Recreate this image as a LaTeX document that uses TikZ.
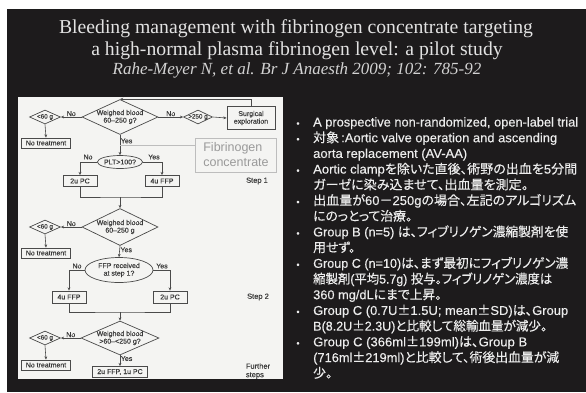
\documentclass[tikz,border=0pt]{standalone}
\usepackage{fontspec}
\usepackage{graphicx}
\setmainfont{Liberation Sans}
\newfontfamily\titlefont{Liberation Serif}
\newfontfamily\bodyfont{Liberation Sans}[FakeBold=0.3]
\newfontfamily\chartfont{Liberation Sans}[FakeBold=0.4]
\newfontfamily\jp{Noto Sans CJK JP}[RawFeature=+palt, FakeBold=0.3]
\usetikzlibrary{shapes.geometric,arrows.meta}
% Japanese run inside a Latin line
\newcommand\J[1]{{\jp #1}}
% set a line to a given width (pt), keeping its height
\newcommand\fitto[2]{\resizebox{#1pt}{\height}{#2}}

\definecolor{slidebg}{HTML}{1D1B1C}
\definecolor{titlec}{HTML}{E2E2E2}
\definecolor{citec}{HTML}{D2D2D2}
\definecolor{bodyc}{HTML}{ECECEC}
\definecolor{panelc}{HTML}{F4F4F2}
\definecolor{fcline}{HTML}{4A4A4A}
\definecolor{fctext}{HTML}{3C3C3C}
\definecolor{fibline}{HTML}{BDBDBD}
\definecolor{fibtext}{HTML}{9A9A9A}

\tikzset{
  fc/.style={font=\chartfont\fontsize{7}{7.6}\selectfont, text=fctext, align=center},
  fbox/.style={fc, draw=fcline, line width=0.8pt, rectangle, inner sep=0.5pt},
  fdia/.style={fc, draw=fcline, line width=0.7pt, diamond, aspect=2.2, inner sep=-2pt},
  sdia/.style={fdia, font=\chartfont\fontsize{6.3}{7}\selectfont},
  fell/.style={fc, draw=fcline, line width=0.7pt, ellipse, inner sep=0pt},
  fln/.style={draw=fcline, line width=0.6pt},
  farr/.style={fln, -{Stealth[length=3.2pt,width=2.8pt]}},
  flab/.style={fc, inner sep=0.6pt},
  stepl/.style={font=\chartfont\fontsize{7.5}{8.5}\selectfont, text=fctext, align=left},
  bodyl/.style={anchor=base west, inner sep=0pt, text=bodyc, font=\bodyfont\fontsize{12.8}{15}\selectfont},
  bul/.style={anchor=base, inner sep=0pt, text=bodyc, font=\bodyfont\fontsize{9}{10}\selectfont},
  titl/.style={anchor=base, inner sep=0pt, text=titlec, font=\titlefont\fontsize{19.7}{23}\selectfont},
}

\begin{document}
\begin{tikzpicture}[x=1pt,y=-1pt]
\useasboundingbox (0,0) rectangle (586,392);
% page and slide
\fill[white] (0,0) rectangle (586,392);
\fill[slidebg] (7,9) rectangle (586,392);

% title block
\node[titl] (t1) at (296,33) {Bleeding management with fibrinogen concentrate targeting};
\node[titl] (t2) at (297,55) {a high-normal plasma fibrinogen level: a pilot study};
\node[anchor=base, inner sep=0pt, text=citec, font=\titlefont\itshape\fontsize{17}{19}\selectfont] (t3) at (297,74) {Rahe-Meyer N, et al. Br J Anaesth 2009; 102: 785-92};

% flowchart panel
\fill[panelc] (18,97) rectangle (283,379);

% ---- step 1
\node[fdia, minimum width=76pt, minimum height=35pt] (d1) at (120,117) {Weighed blood\\60–250 g?};
\node[sdia, minimum width=31pt, minimum height=14pt] (s1) at (45,117) {<60 g};
\node[fbox, minimum width=49pt, minimum height=10pt] (nt1) at (46,143) {No treatment};
\node[sdia, minimum width=29pt, minimum height=14pt] (g1) at (198,117) {>250 g};
\node[fbox, minimum width=48pt, minimum height=23pt] (surg) at (251,118) {Surgical\\exploration};
\node[draw=fibline, line width=0.9pt, text=fibtext, font=\fontsize{12.5}{15}\selectfont, align=left, minimum width=81pt, minimum height=34pt, inner sep=2pt] (fib) at (236,155) {Fibrinogen\\concentrate};
\node[fell, minimum width=44pt, minimum height=13pt] (plt) at (120,162) {PLT>100?};
\node[fbox, minimum width=34pt, minimum height=11pt] (pc1) at (80,181) {2u PC};
\node[fbox, minimum width=34pt, minimum height=11pt] (ffp1) at (162,181) {4u FFP};
\node[stepl] (st1) at (257,181) {Step 1};

\draw[farr] (d1.west) -- (s1.east) node[flab, midway, above] (n1) {No};
\draw[farr] (s1.south) -- (nt1.north);
\draw[farr] (d1.east) -- (g1.west) node[flab, midway, above] (n2) {No};
\draw[farr] (g1.east) -- (surg.west);
\draw[farr] (surg.north) |- (d1.north);
\draw[farr] (d1.south) -- (plt.north) node[flab, pos=0.3, right] (y1) {Yes};
\coordinate (fj) at (120,145);
\draw[draw=fibline, line width=0.8pt] (fj) -- (fj -| fib.west);
\draw[farr] (plt.west) -| (pc1.north);
\node[flab] (n3) at (88,157) {No};
\draw[farr] (plt.east) -| (ffp1.north);
\node[flab] (y2) at (154,157) {Yes};
\coordinate (m1) at (120,197);
\draw[fln] (pc1.south) |- (m1) -| (ffp1.south);

% ---- step 2
\node[fdia, minimum width=76pt, minimum height=37pt] (d2) at (120,227) {Weighed blood\\60–250 g};
\node[sdia, minimum width=31pt, minimum height=14pt] (s2) at (45,227) {<60 g};
\node[fbox, minimum width=49pt, minimum height=10pt] (nt2) at (46,253) {No treatment};
\node[fell, minimum width=68pt, minimum height=25pt] (ffq) at (119,270) {FFP received\\at step 1?};
\node[fbox, minimum width=34pt, minimum height=12pt] (ffp2) at (69,297) {4u FFP};
\node[fbox, minimum width=34pt, minimum height=12pt] (pc2) at (170,297) {2u PC};
\node[stepl] (st2) at (258,297) {Step 2};

\draw[farr] (m1) -- (d2.north);
\draw[farr] (d2.west) -- (s2.east) node[flab, midway, above] (n4) {No};
\draw[farr] (s2.south) -- (nt2.north);
\draw[farr] (d2.south) -- (ffq.north) node[flab, pos=0.35, right] (y3) {Yes};
\draw[farr] (ffq.west) -| (ffp2.north);
\node[flab] (n5) at (77,266) {No};
\draw[farr] (ffq.east) -| (pc2.north);
\node[flab] (y4) at (162,266) {Yes};
\coordinate (m2) at (120,312);
\draw[fln] (ffp2.south) |- (m2) -| (pc2.south);

% ---- further steps
\node[fdia, minimum width=78pt, minimum height=34pt] (d3) at (120,338) {Weighed blood\\>60–<250 g?};
\node[sdia, minimum width=31pt, minimum height=14pt] (s3) at (45,338) {<60 g};
\node[fbox, minimum width=49pt, minimum height=10pt] (nt3) at (46,365) {No treatment};
\node[fbox, minimum width=55pt, minimum height=11pt] (fin) at (120,372) {2u FFP, 1u PC};
\node[stepl] (st3) at (258,371) {Further\\steps};

\draw[farr] (m2) -- (d3.north);
\draw[farr] (d3.west) -- (s3.east) node[flab, midway, above] (n6) {No};
\draw[farr] (s3.south) -- (nt3.north);
\draw[farr] (d3.south) -- (fin.north) node[flab, pos=0.3, right] (y5) {Yes};

% ---- bullet list
\foreach \k/\yy in {1/126.5, 2/142.2, 4/173.6, 6/205.0, 8/236.4, 10/267.8, 13/314.9, 15/346.3}
  \node[bul] (bul\k) at (298,\yy) {•};

\node[bodyl] (l1)  at (313,126.5) {\fitto{265}{A prospective non-randomized, open-label trial}};
\node[bodyl] (l2)  at (313,142.2) {\fitto{244}{\J{対象}\,:Aortic valve operation and ascending}};
\node[bodyl] (l3)  at (313,157.9) {\fitto{154}{aorta replacement (AV-AA)}};
\node[bodyl] (l4)  at (313,173.6) {\fitto{264}{Aortic clamp\J{を除いた直後、術野の出血を}5\J{分間}}};
\node[bodyl] (l5)  at (313,189.3) {\fitto{215}{\J{ガーゼに染み込ませて、出血量を測定。}}};
\node[bodyl] (l6)  at (313,205.0) {\fitto{263}{\J{出血量が}60\J{－}250g\J{の場合、左記のアルゴリズム}}};
\node[bodyl] (l7)  at (313,220.7) {\J{にのっとって治療。}};
\node[bodyl] (l8)  at (313,236.4) {\fitto{255}{Group B (n=5) \J{は、フィブリノゲン濃縮製剤を使}}};
\node[bodyl] (l9)  at (313,252.1) {\J{用せず。}};
\node[bodyl] (l10) at (313,267.8) {\fitto{255}{Group C (n=10)\J{は、まず最初にフィブリノゲン濃}}};
\node[bodyl] (l11) at (313,283.5) {\fitto{239}{\J{縮製剤}(\J{平均}5.7g) \J{投与。フィブリノゲン濃度は}}};
\node[bodyl] (l12) at (313,299.2) {360 mg/dL\J{にまで上昇。}};
\node[bodyl] (l13) at (313,314.9) {\fitto{255}{Group C (0.7U\J{±}1.5U; mean\J{±}SD)\J{は、}Group}};
\node[bodyl] (l14) at (313,330.6) {\fitto{234}{B(8.2U\J{±}2.3U)\J{と比較して総輸血量が減少。}}};
\node[bodyl] (l15) at (313,346.3) {\fitto{214}{Group C (366ml\J{±}199ml)\J{は、}Group B}};
\node[bodyl] (l16) at (313,362.0) {\fitto{246}{(716ml\J{±}219ml)\J{と比較して、術後出血量が減}}};
\node[bodyl] (l17) at (313,377.7) {\J{少。}};
\end{tikzpicture}
\end{document}
